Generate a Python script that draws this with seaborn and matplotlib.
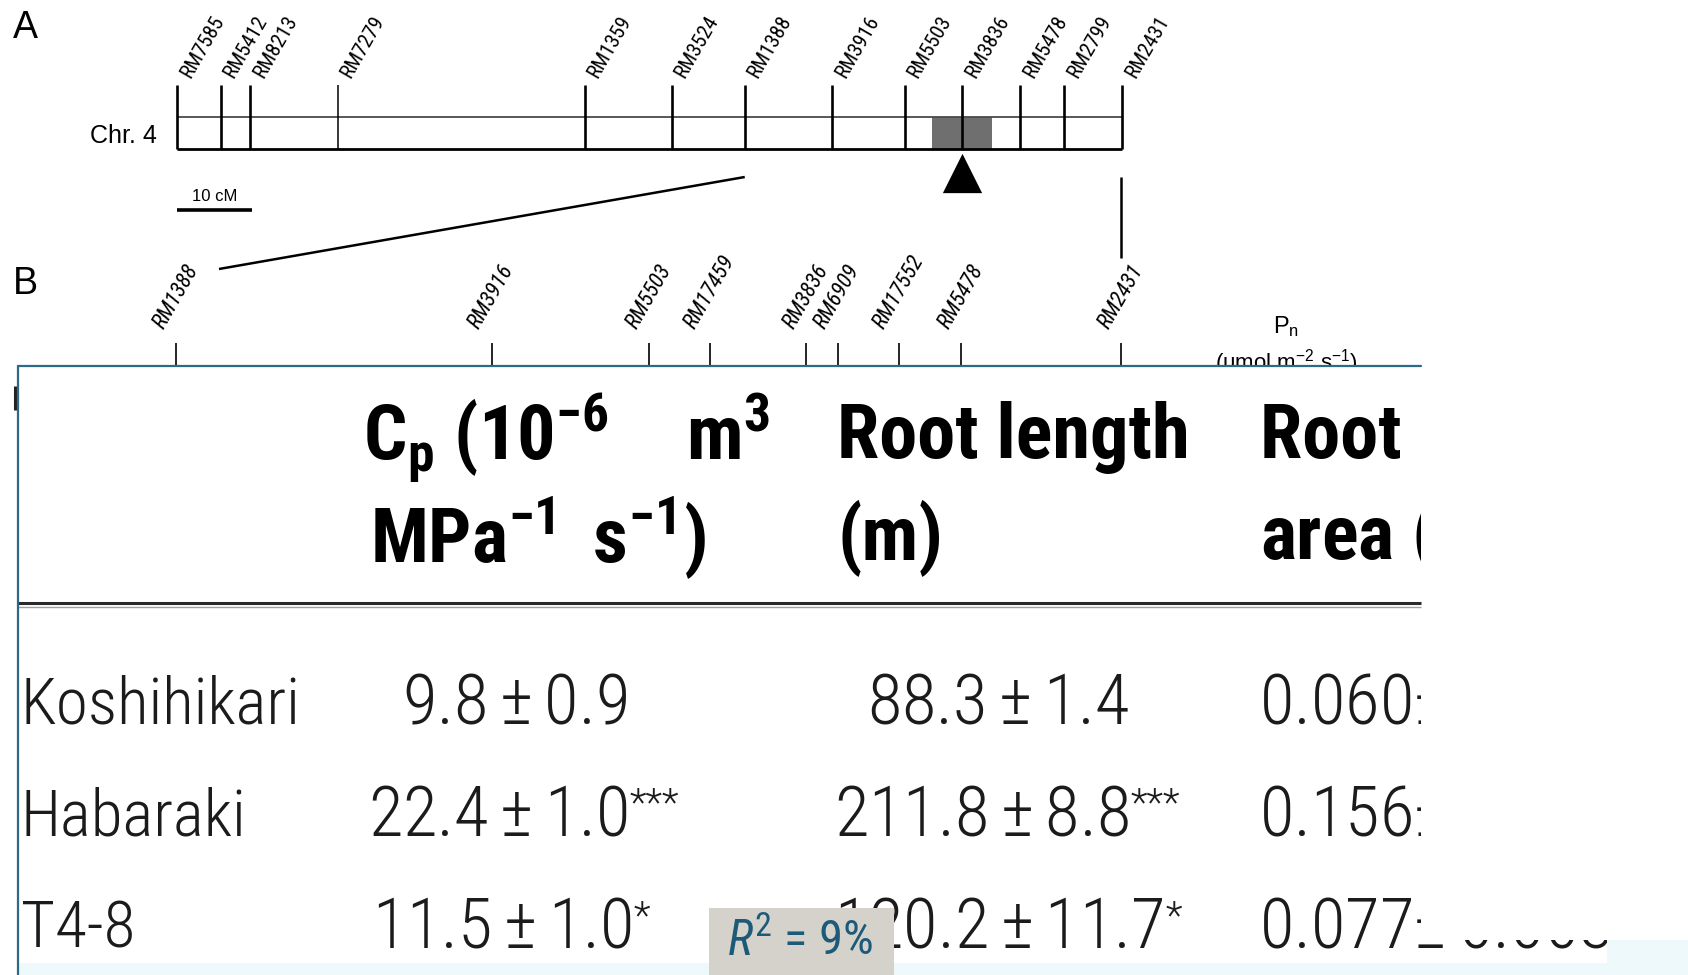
import matplotlib
matplotlib.use("Agg")
import matplotlib.pyplot as plt
import seaborn as sns
from matplotlib import font_manager as fm
from matplotlib.patches import Rectangle
from matplotlib.transforms import Bbox, TransformedBbox

# ---------------- data ----------------
# Panel A: linkage map of chromosome 4 (cM)
map_markers = ["RM7585", "RM5412", "RM8213", "RM7279", "RM1359", "RM3524", "RM1388",
               "RM3916", "RM5503", "RM3836", "RM5478", "RM2799", "RM2431"]
map_cm = [0.0, 5.8, 9.7, 21.3, 54.0, 65.5, 75.2, 86.8, 96.4, 104.0, 111.7, 117.5, 125.2]
qtl_interval_cm = [100.0, 107.9]
qtl_peak_cm = 104.0
scale_bar_cm = 10

# Panel B: fine map between RM1388 and RM2431 (relative position, %)
fine_markers = ["RM1388", "RM3916", "RM5503", "RM17459", "RM3836", "RM6909",
                "RM17552", "RM5478", "RM2431"]
fine_pos = [0.0, 33.4, 50.1, 56.5, 66.7, 70.0, 76.5, 83.1, 100.0]

# Table: root traits of the parents and the substitution line
lines = ["Koshihikari", "Habaraki", "T4-8"]
cp_mean = [9.8, 22.4, 11.5]
cp_se = [0.9, 1.0, 1.0]
cp_sig = ["", "***", "*"]
rl_mean = [88.3, 211.8, 120.2]
rl_se = [1.4, 8.8, 11.7]
rl_sig = ["", "***", "*"]
ra_mean = [0.060, 0.156, 0.077]
ra_se = [0.004, 0.009, 0.003]
r2_percent = 9

# ---------------- style ----------------
sns.set_theme(style="white")
PLAIN = ["Liberation Sans", "DejaVu Sans"]
plt.rcParams["font.family"] = PLAIN
plt.rcParams["mathtext.default"] = "regular"

COND_STRETCH = {"ultra-condensed", "extra-condensed", "condensed", "semi-condensed"}
PREF = ["Liberation Sans Narrow", "Arial Narrow", "Nimbus Sans Narrow", "Roboto Condensed",
        "Open Sans Condensed", "Noto Sans Condensed", "Noto Sans", "Open Sans", "Roboto",
        "Lato", "Inter"]


def _weight(w):
    if isinstance(w, str):
        return fm.weight_dict.get(w, 400)
    return int(w)


def condensed_font(weight=400, italic=False):
    """Pick an installed narrow sans face; fall back to Roboto."""
    best, best_score = None, None
    for f in fm.fontManager.ttflist:
        name = f.name
        narrow = (f.stretch in COND_STRETCH or "Narrow" in name or "Condensed" in name)
        if not narrow:
            continue
        if any(k in name for k in ("Mono", "Serif", "CJK", "Math", "Symbol", "DejaVu")):
            continue
        pref = next((i for i, p in enumerate(PREF) if name.startswith(p)), len(PREF))
        is_it = f.style != "normal"
        score = pref * 1000 + abs(_weight(f.weight) - weight) + (0 if is_it == italic else 500)
        if best_score is None or score < best_score:
            best, best_score = f, score
    if best is not None:
        return fm.FontProperties(fname=best.fname)
    return fm.FontProperties(family=["Roboto", "Liberation Sans"], weight=weight,
                             style="italic" if italic else "normal")


def sized(fp, size):
    p = fp.copy()
    p.set_size(size)
    return p


FP_HEAD = condensed_font(700)
FP_REG = condensed_font(400)
FP_LIGHT = condensed_font(300)
FP_IT = condensed_font(400, italic=True)

W, H = 1688, 975
fig = plt.figure(figsize=(W / 100, H / 100), dpi=100)
fig.patch.set_facecolor("white")


def pixel_axes():
    a = fig.add_axes([0, 0, 1, 1])
    a.set_xlim(0, W)
    a.set_ylim(H, 0)
    a.axis("off")
    return a


base = pixel_axes()

# ---------------- panel A ----------------
A_X0, A_PX = 177.0, 7.55          # pixel of 0 cM, pixels per cM
axA = fig.add_axes([0, 0, 1, 1])
sns.scatterplot(x=[qtl_peak_cm], y=[172.5], marker="^", s=800, color="black",
                linewidth=0, ax=axA, legend=False, zorder=4)
axA.set_xlim(-A_X0 / A_PX, (W - A_X0) / A_PX)
axA.set_ylim(H, 0)
axA.axis("off")

chr_len = map_cm[-1]
axA.add_patch(Rectangle((qtl_interval_cm[0], 117), qtl_interval_cm[1] - qtl_interval_cm[0], 32,
                        facecolor="#6f6f6f", edgecolor="none", zorder=1))
axA.hlines(117, 0, chr_len, color="#4a4a4a", lw=1.3, zorder=2)
axA.hlines(149, 0, chr_len, color="black", lw=2.0, zorder=2)
tick_lw = [1.1 if m == "RM7279" else 1.9 for m in map_markers]
axA.vlines(map_cm, 85, 149, colors="black", linewidths=tick_lw, zorder=3)
LABEL_FP = sized(FP_REG, 15)
for m, c in zip(map_markers, map_cm):
    axA.text(c, 81, m, rotation=60, ha="left", va="bottom", fontproperties=LABEL_FP,
             color="black")

axA.hlines(210, 0, scale_bar_cm, color="black", lw=2.6)
axA.text(scale_bar_cm / 2, 201, f"{scale_bar_cm} cM", ha="center", va="baseline",
         fontsize=12, family=PLAIN, color="black")

base.text(157, 143, "Chr. 4", ha="right", va="baseline", fontsize=18, color="black")
base.text(13, 38, "A", ha="left", va="baseline", fontsize=27, color="black")
base.text(13, 294, "B", ha="left", va="baseline", fontsize=27, color="black")

# ---------------- panel B ----------------
B_X0, B_PX = 176.0, 9.45
axB = fig.add_axes([0, 0, 1, 1])
axB.set_xlim(-B_X0 / B_PX, (W - B_X0) / B_PX)
axB.set_ylim(H, 0)
axB.axis("off")
axB.vlines(fine_pos, 343, 366, colors="black", linewidths=1.2)
FINE_FP = sized(FP_IT, 16)
for m, p in zip(fine_markers, fine_pos):
    axB.text(p, 333, m, rotation=60, ha="center", va="bottom", fontproperties=FINE_FP,
             color="black")

# links between the two maps
i1388 = map_markers.index("RM1388")
x_top = A_X0 + A_PX * map_cm[i1388]
x_bot = B_X0 + B_PX * fine_pos[0] + 43
base.plot([x_top, x_bot], [177, 269], color="black", lw=1.8, solid_capstyle="butt")
x_end = A_X0 + A_PX * map_cm[-1] - 1.5
base.vlines(x_end, 177, 258, color="black", lw=1.8)

base.text(1286, 333, "P$_{n}$", ha="center", va="baseline", fontsize=17, color="black")
base.text(1286, 370, "(umol m$^{-2}$ s$^{-1}$)", ha="center", va="baseline",
          fontsize=16, color="black")
base.vlines(14.5, 386, 410, color="#222222", lw=2.2)

# ---------------- table ----------------
axT = pixel_axes()
TL, TT, TR = 18, 366, 1421
axT.add_patch(Rectangle((TL, TT), TR - TL, H - TT, facecolor="white", edgecolor="none", zorder=0))
axT.add_patch(Rectangle((TL, 963), W - TL, H - 963, facecolor="#eef9fb", edgecolor="none", zorder=0.5))
axT.add_patch(Rectangle((1607, 940), W - 1607, H - 940, facecolor="#eef9fb", edgecolor="none", zorder=0.5))
axT.plot([TL, TR], [TT, TT], color="#2c6a88", lw=1.6, zorder=3)
axT.plot([TL, TL], [TT, H], color="#2c6a88", lw=1.6, zorder=3)
axT.hlines(603, TL, TR, color="#2a2a2a", lw=2.2, zorder=2)
axT.hlines(607, TL, TR, color="#a0a0a0", lw=1.0, zorder=2)

clip_tbl = TransformedBbox(Bbox.from_extents(TL, TT, TR, H), axT.transData)
clip_strip = TransformedBbox(Bbox.from_extents(TR, 940, 1607, 952), axT.transData)


def ttext(x, y, s, clip=clip_tbl, color="#1b1b1b", **kw):
    t = axT.text(x, y, s, ha="left", va="baseline", color=color, zorder=2, **kw)
    t.set_clip_box(clip)
    t.set_clip_on(True)
    return t


def pm(mean, se, fmt, pad_left=True):
    """mean ± se with thin spacing around the sign."""
    left = "$\\,$" if pad_left else ""
    return f"{mean:{fmt}}{left}\u00b1$\\,${se:{fmt}}"


HEAD = sized(FP_HEAD, 55)
ttext(363, 460, "C$_{p}$ (10$^{-6}$", fontproperties=HEAD, color="black")
ttext(686, 460, "m$^{3}$", fontproperties=HEAD, color="black")
ttext(370, 563, "MPa$^{-1}$ $\\,$s$^{-1}$)", fontproperties=HEAD, color="black")
ttext(837, 458, "Root length", fontproperties=HEAD, color="black")
ttext(837, 560, "(m)", fontproperties=HEAD, color="black")
ttext(1260, 458, "Root surface", fontproperties=HEAD, color="black")
ttext(1260, 560, "area (m$^{2}$)", fontproperties=HEAD, color="black")

ROW_Y = [723, 835, 948]
CP_X = [402, 368, 372]
RL_X = [867, 834, 834]
RA_X = 1259
NAME_FP = sized(FP_LIGHT, 47)
NUM_FP = sized(FP_LIGHT, 51)
STAR_FP = sized(FP_LIGHT, 28)
main_texts = []
for i, name in enumerate(lines):
    y = ROW_Y[i]
    ttext(21, y, name, fontproperties=NAME_FP)
    t1 = ttext(CP_X[i], y, pm(cp_mean[i], cp_se[i], ".1f"), fontproperties=NUM_FP)
    t2 = ttext(RL_X[i], y, pm(rl_mean[i], rl_se[i], ".1f"), fontproperties=NUM_FP)
    s_ra = pm(ra_mean[i], ra_se[i], ".3f", pad_left=False)
    ttext(RA_X, y, s_ra, fontproperties=NUM_FP)
    if i == len(lines) - 1:
        ttext(RA_X, y, s_ra, clip=clip_strip, fontproperties=NUM_FP)
    main_texts.append((t1, cp_sig[i], y))
    main_texts.append((t2, rl_sig[i], y))

fig.canvas.draw()
renderer = fig.canvas.get_renderer()
inv = axT.transData.inverted()
for t, sig, y in main_texts:
    if sig:
        bb = t.get_window_extent(renderer)
        xd = inv.transform((bb.x1, 0))[0]
        ttext(xd + 2, y - 20, sig, fontproperties=STAR_FP)

# R^2 label
axT.add_patch(Rectangle((709, 908), 185, H - 908, facecolor="#d5d2cb", edgecolor="none", zorder=5))
r_txt = axT.text(728, 955, "R", ha="left", va="baseline", fontproperties=sized(FP_IT, 35),
                 color="#1d5a78", zorder=6)
fig.canvas.draw()
bb = r_txt.get_window_extent(fig.canvas.get_renderer())
xr = inv.transform((bb.x1, 0))[0]
axT.text(xr + 1, 955, f"$^{{2}}$ = {r2_percent}%", ha="left", va="baseline",
         fontproperties=sized(FP_REG, 35), color="#1d5a78", zorder=6)

fig.savefig("out.png", dpi=100, facecolor="white")
